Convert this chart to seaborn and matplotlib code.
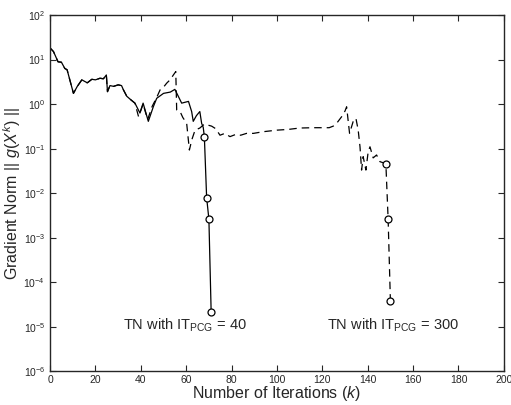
import numpy as np
import pandas as pd
import seaborn as sns
from matplotlib import pyplot as plt
from matplotlib import ticker

# data ----------------------------------------------------------------------------------
# shared start of both runs
k_common = [0, 1.5, 3.5, 5, 6.5, 7.5, 10.3, 12, 14, 16.4, 18.4, 20, 22, 23.5, 24.8, 25.3,
            26.4, 28, 30, 31.5, 32.3, 33.8, 35.5, 37.4]
g_common = [18.2, 15.1, 8.9, 8.7, 6.3, 5.9, 1.74, 2.5, 3.5, 3.0, 3.6, 3.5, 3.8, 3.7, 4.5, 1.9,
            2.6, 2.5, 2.7, 2.6, 2.1, 1.5, 1.26, 1.05]

# TN with IT_PCG = 40 (solid)
k_tn40 = [39.6, 41, 43.3, 45.5, 47, 50, 53, 55, 56.5, 58, 61, 62.4, 63.1, 64.5, 66, 66.8,
          67.5, 68, 69, 70, 71]
g_tn40 = [0.63, 1.05, 0.41, 0.87, 1.35, 1.74, 1.86, 2.14, 1.5, 1.05, 1.15, 0.68, 0.41, 0.55,
          0.68, 0.37, 0.30, 0.186, 0.008, 0.0026, 2.1e-5]
k_tn40_marks = [68, 69, 70, 71]

# TN with IT_PCG = 300 (dashed)
k_tn300 = [39, 41, 43, 45, 47, 48.5, 50, 51.4, 53, 54.3, 55.4, 55.8, 57.3, 58.5, 60.2, 61.4,
           62.5, 63.9, 66, 68, 71.2, 73, 74.9, 77, 79.3, 82, 84, 86.6, 89.6, 94, 100, 105,
           110, 116, 123, 124.8, 126.3, 128.5, 130, 130.7, 132, 133.6, 134.8, 135.8, 136.6,
           137.3, 138, 139.2, 140.2, 141, 142.4, 143.9, 145.4, 148, 149, 150]
g_tn300 = [0.52, 1.0, 0.45, 0.89, 1.41, 2.09, 2.4, 2.95, 3.55, 4.47, 5.37, 0.74, 0.68, 0.5,
           0.37, 0.093, 0.16, 0.26, 0.29, 0.355, 0.32, 0.28, 0.2, 0.22, 0.186, 0.21, 0.2, 0.22,
           0.22, 0.24, 0.26, 0.27, 0.29, 0.295, 0.295, 0.32, 0.37, 0.52, 0.7, 0.87, 0.22,
           0.41, 0.48, 0.26, 0.11, 0.033, 0.066, 0.033, 0.085, 0.11, 0.062, 0.072, 0.051,
           0.046, 0.0026, 3.8e-5]
k_tn300_marks = [148, 149, 150]

x_ticks = list(range(0, 201, 20))
label_40 = r"TN with IT$_{\mathrm{PCG}}$ = 40"
label_300 = r"TN with IT$_{\mathrm{PCG}}$ = 300"

# ---------------------------------------------------------------------------------------
sns.set_style("ticks")
plt.rcParams["font.family"] = ["Liberation Sans", "DejaVu Sans"]
plt.rcParams["mathtext.fontset"] = "custom"
plt.rcParams["mathtext.rm"] = "Liberation Sans"
plt.rcParams["mathtext.it"] = "Liberation Sans:italic"
plt.rcParams["mathtext.bf"] = "Liberation Sans:bold"

solid = pd.DataFrame({"k": k_common + k_tn40, "g": g_common + g_tn40})
dashed = pd.DataFrame({"k": k_common + k_tn300, "g": g_common + g_tn300})

fig = plt.figure(figsize=(5.11, 4.05), dpi=100)
ax = fig.add_axes([0.098, 0.083, 0.888, 0.880])

sns.lineplot(data=dashed, x="k", y="g", estimator=None, sort=False, ax=ax,
             color="black", lw=0.9, dashes=False, linestyle=(0, (6, 4)))
sns.lineplot(data=solid, x="k", y="g", estimator=None, sort=False, ax=ax,
             color="black", lw=0.9)

m40 = solid[solid["k"].isin(k_tn40_marks)]
m300 = dashed[dashed["k"].isin(k_tn300_marks)]
for m in (m40, m300):
    ax.plot(m["k"], m["g"], "o", mfc="white", mec="black", ms=5, mew=0.9)

ax.set_yscale("log")
ax.set_xlim(0, 200)
ax.set_ylim(1e-6, 1e2)
ax.set_xticks(x_ticks)
ax.yaxis.set_major_locator(ticker.LogLocator(base=10, subs=(1.0,), numticks=20))
ax.yaxis.set_minor_locator(ticker.NullLocator())
ax.tick_params(direction="in", top=True, right=True, labelsize=7.5, length=4, width=0.8)
ax.tick_params(axis="x", pad=2.5)
for s in ax.spines.values():
    s.set_linewidth(1.0)

ax.text(32, 1.1e-5, label_40, fontsize=10.5, va="center", ha="left")
ax.text(122, 1.1e-5, label_300, fontsize=10.5, va="center", ha="left")

ax.set_xlabel(r"Number of Iterations ($\mathit{k}$)", fontsize=11.5, labelpad=-0.5)
ax.set_ylabel(r"Gradient Norm || $\mathit{g}(\mathit{X}^{\mathit{k}})$ ||", fontsize=11.5, labelpad=0)

fig.savefig("out.png", dpi=100)
